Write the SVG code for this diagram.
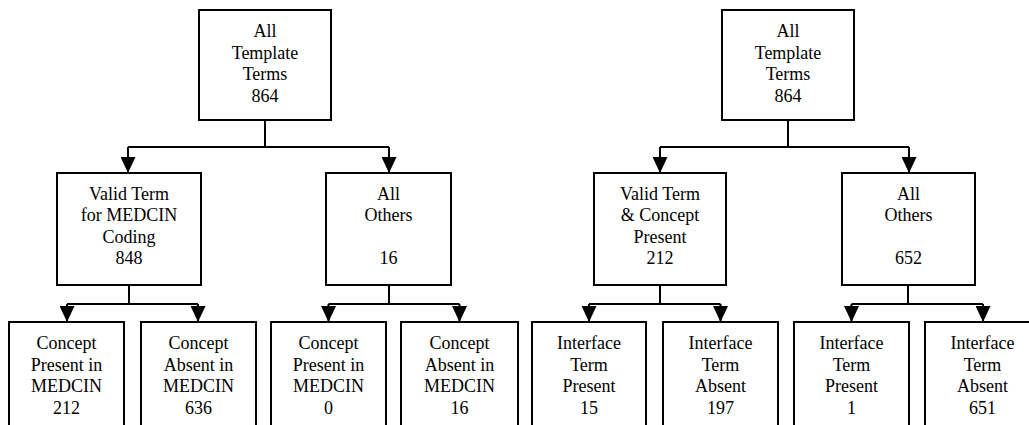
<svg xmlns="http://www.w3.org/2000/svg" width="1029" height="425" viewBox="0 0 1029 425">
<style>
.box{fill:#fff;stroke:#000;stroke-width:2}
.ln{fill:none;stroke:#000;stroke-width:2}
.t{font-family:"Liberation Serif",serif;font-size:18px;text-anchor:middle;fill:#000}
</style>
<defs>
<marker id="ah" markerUnits="userSpaceOnUse" viewBox="0 0 16 15" refX="16" refY="7.5" markerWidth="16" markerHeight="15" orient="auto">
<path d="M0,0 L16,7.5 L0,15 Z" fill="#000"/>
</marker>
</defs>
<g id="connectors">
<path class="ln" d="M265,120 V147 M128,147 H389"/>
<path class="ln" d="M128,147 V173" marker-end="url(#ah)"/>
<path class="ln" d="M389,147 V173" marker-end="url(#ah)"/>
<path class="ln" d="M129,285 V304 M67,304 H198"/>
<path class="ln" d="M67,304 V322" marker-end="url(#ah)"/>
<path class="ln" d="M198,304 V322" marker-end="url(#ah)"/>
<path class="ln" d="M389,285 V304 M328.5,304 H459.5"/>
<path class="ln" d="M328.5,304 V322" marker-end="url(#ah)"/>
<path class="ln" d="M459.5,304 V322" marker-end="url(#ah)"/>
<path class="ln" d="M788,120 V147 M660,147 H909"/>
<path class="ln" d="M660,147 V173" marker-end="url(#ah)"/>
<path class="ln" d="M909,147 V173" marker-end="url(#ah)"/>
<path class="ln" d="M660,285 V304 M589,304 H720.5"/>
<path class="ln" d="M589,304 V322" marker-end="url(#ah)"/>
<path class="ln" d="M720.5,304 V322" marker-end="url(#ah)"/>
<path class="ln" d="M908,285 V304 M851.5,304 H983"/>
<path class="ln" d="M851.5,304 V322" marker-end="url(#ah)"/>
<path class="ln" d="M983,304 V322" marker-end="url(#ah)"/>
</g>
<g id="L-root"><rect class="box" x="199" y="10" width="132" height="110"/>
<text class="t" font-family="Liberation Serif" font-size="18" text-anchor="middle" x="265" y="37">All</text>
<text class="t" font-family="Liberation Serif" font-size="18" text-anchor="middle" x="265" y="58.5">Template</text>
<text class="t" font-family="Liberation Serif" font-size="18" text-anchor="middle" x="265" y="80">Terms</text>
<text class="t" font-family="Liberation Serif" font-size="18" text-anchor="middle" x="265" y="101.5">864</text></g>
<g id="L-valid"><rect class="box" x="57" y="173" width="144" height="112"/>
<text class="t" font-family="Liberation Serif" font-size="18" text-anchor="middle" x="129" y="199.5">Valid Term</text>
<text class="t" font-family="Liberation Serif" font-size="18" text-anchor="middle" x="129" y="221">for MEDCIN</text>
<text class="t" font-family="Liberation Serif" font-size="18" text-anchor="middle" x="129" y="242.5">Coding</text>
<text class="t" font-family="Liberation Serif" font-size="18" text-anchor="middle" x="129" y="264">848</text></g>
<g id="L-others"><rect class="box" x="326" y="173" width="125" height="112"/>
<text class="t" font-family="Liberation Serif" font-size="18" text-anchor="middle" x="388.5" y="199.5">All</text>
<text class="t" font-family="Liberation Serif" font-size="18" text-anchor="middle" x="388.5" y="221">Others</text>
<text class="t" font-family="Liberation Serif" font-size="18" text-anchor="middle" x="388.5" y="264">16</text></g>
<g id="L-b1"><path class="box" d="M9,425 V322 H124 V425"/>
<text class="t" font-family="Liberation Serif" font-size="18" text-anchor="middle" x="66.5" y="349">Concept</text>
<text class="t" font-family="Liberation Serif" font-size="18" text-anchor="middle" x="66.5" y="370.5">Present in</text>
<text class="t" font-family="Liberation Serif" font-size="18" text-anchor="middle" x="66.5" y="392">MEDCIN</text>
<text class="t" font-family="Liberation Serif" font-size="18" text-anchor="middle" x="66.5" y="413.5">212</text></g>
<g id="L-b2"><path class="box" d="M141,425 V322 H256 V425"/>
<text class="t" font-family="Liberation Serif" font-size="18" text-anchor="middle" x="198.5" y="349">Concept</text>
<text class="t" font-family="Liberation Serif" font-size="18" text-anchor="middle" x="198.5" y="370.5">Absent in</text>
<text class="t" font-family="Liberation Serif" font-size="18" text-anchor="middle" x="198.5" y="392">MEDCIN</text>
<text class="t" font-family="Liberation Serif" font-size="18" text-anchor="middle" x="198.5" y="413.5">636</text></g>
<g id="L-b3"><path class="box" d="M271,425 V322 H386 V425"/>
<text class="t" font-family="Liberation Serif" font-size="18" text-anchor="middle" x="328.5" y="349">Concept</text>
<text class="t" font-family="Liberation Serif" font-size="18" text-anchor="middle" x="328.5" y="370.5">Present in</text>
<text class="t" font-family="Liberation Serif" font-size="18" text-anchor="middle" x="328.5" y="392">MEDCIN</text>
<text class="t" font-family="Liberation Serif" font-size="18" text-anchor="middle" x="328.5" y="413.5">0</text></g>
<g id="L-b4"><path class="box" d="M401,425 V322 H518 V425"/>
<text class="t" font-family="Liberation Serif" font-size="18" text-anchor="middle" x="459.5" y="349">Concept</text>
<text class="t" font-family="Liberation Serif" font-size="18" text-anchor="middle" x="459.5" y="370.5">Absent in</text>
<text class="t" font-family="Liberation Serif" font-size="18" text-anchor="middle" x="459.5" y="392">MEDCIN</text>
<text class="t" font-family="Liberation Serif" font-size="18" text-anchor="middle" x="459.5" y="413.5">16</text></g>
<g id="R-root"><rect class="box" x="722" y="10" width="132" height="110"/>
<text class="t" font-family="Liberation Serif" font-size="18" text-anchor="middle" x="788" y="37">All</text>
<text class="t" font-family="Liberation Serif" font-size="18" text-anchor="middle" x="788" y="58.5">Template</text>
<text class="t" font-family="Liberation Serif" font-size="18" text-anchor="middle" x="788" y="80">Terms</text>
<text class="t" font-family="Liberation Serif" font-size="18" text-anchor="middle" x="788" y="101.5">864</text></g>
<g id="R-valid"><rect class="box" x="594" y="173" width="132" height="112"/>
<text class="t" font-family="Liberation Serif" font-size="18" text-anchor="middle" x="660" y="199.5">Valid Term</text>
<text class="t" font-family="Liberation Serif" font-size="18" text-anchor="middle" x="660" y="221">&amp; Concept</text>
<text class="t" font-family="Liberation Serif" font-size="18" text-anchor="middle" x="660" y="242.5">Present</text>
<text class="t" font-family="Liberation Serif" font-size="18" text-anchor="middle" x="660" y="264">212</text></g>
<g id="R-others"><rect class="box" x="842" y="173" width="133" height="112"/>
<text class="t" font-family="Liberation Serif" font-size="18" text-anchor="middle" x="908.5" y="199.5">All</text>
<text class="t" font-family="Liberation Serif" font-size="18" text-anchor="middle" x="908.5" y="221">Others</text>
<text class="t" font-family="Liberation Serif" font-size="18" text-anchor="middle" x="908.5" y="264">652</text></g>
<g id="R-b1"><path class="box" d="M532,425 V322 H646 V425"/>
<text class="t" font-family="Liberation Serif" font-size="18" text-anchor="middle" x="589" y="349">Interface</text>
<text class="t" font-family="Liberation Serif" font-size="18" text-anchor="middle" x="589" y="370.5">Term</text>
<text class="t" font-family="Liberation Serif" font-size="18" text-anchor="middle" x="589" y="392">Present</text>
<text class="t" font-family="Liberation Serif" font-size="18" text-anchor="middle" x="589" y="413.5">15</text></g>
<g id="R-b2"><path class="box" d="M663,425 V322 H778 V425"/>
<text class="t" font-family="Liberation Serif" font-size="18" text-anchor="middle" x="720.5" y="349">Interface</text>
<text class="t" font-family="Liberation Serif" font-size="18" text-anchor="middle" x="720.5" y="370.5">Term</text>
<text class="t" font-family="Liberation Serif" font-size="18" text-anchor="middle" x="720.5" y="392">Absent</text>
<text class="t" font-family="Liberation Serif" font-size="18" text-anchor="middle" x="720.5" y="413.5">197</text></g>
<g id="R-b3"><path class="box" d="M794,425 V322 H909 V425"/>
<text class="t" font-family="Liberation Serif" font-size="18" text-anchor="middle" x="851.5" y="349">Interface</text>
<text class="t" font-family="Liberation Serif" font-size="18" text-anchor="middle" x="851.5" y="370.5">Term</text>
<text class="t" font-family="Liberation Serif" font-size="18" text-anchor="middle" x="851.5" y="392">Present</text>
<text class="t" font-family="Liberation Serif" font-size="18" text-anchor="middle" x="851.5" y="413.5">1</text></g>
<g id="R-b4"><path class="box" d="M925,425 V322 H1029"/>
<text class="t" font-family="Liberation Serif" font-size="18" text-anchor="middle" x="982.5" y="349">Interface</text>
<text class="t" font-family="Liberation Serif" font-size="18" text-anchor="middle" x="982.5" y="370.5">Term</text>
<text class="t" font-family="Liberation Serif" font-size="18" text-anchor="middle" x="982.5" y="392">Absent</text>
<text class="t" font-family="Liberation Serif" font-size="18" text-anchor="middle" x="982.5" y="413.5">651</text></g>
</svg>
